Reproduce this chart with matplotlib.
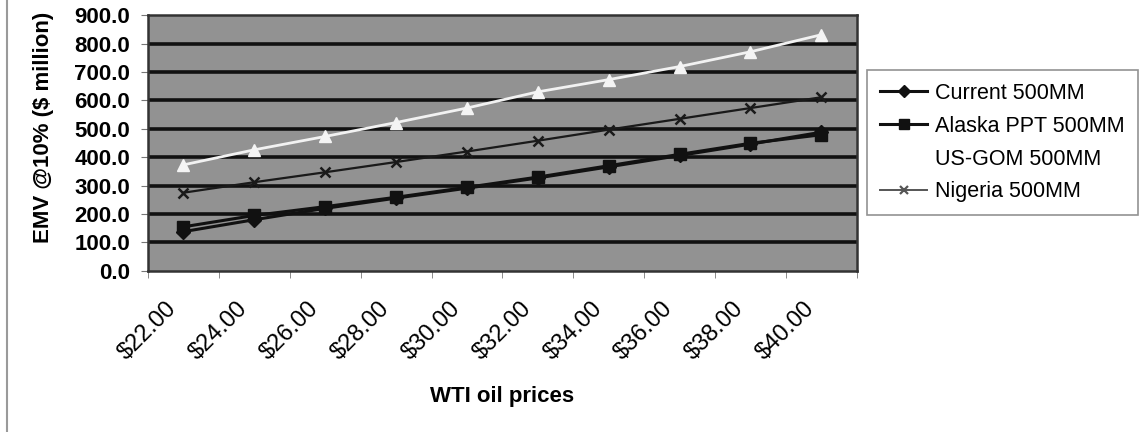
import matplotlib
matplotlib.use("Agg")
import matplotlib.pyplot as plt
from matplotlib.lines import Line2D
from matplotlib.transforms import ScaledTranslation

prices = ["$22.00", "$24.00", "$26.00", "$28.00", "$30.00",
          "$32.00", "$34.00", "$36.00", "$38.00", "$40.00"]
current = [138, 180, 220, 256, 291, 327, 366, 406, 446, 488]
alaska = [155, 195, 226, 259, 294, 330, 370, 410, 449, 479]
us_gom = [373, 426, 473, 522, 573, 630, 673, 719, 771, 831]
nigeria = [275, 312, 347, 383, 420, 458, 497, 535, 573, 611]
y_ticks = [0, 100, 200, 300, 400, 500, 600, 700, 800, 900]

plt.rcParams['font.family'] = ['Liberation Sans', 'DejaVu Sans']

fig = plt.figure(figsize=(11.47, 4.32), dpi=100)
ax = fig.add_axes([0.129, 0.373, 0.618, 0.592])
ax.set_facecolor('#929292')

x = list(range(len(prices)))
ax.set_xlim(-0.5, len(prices) - 0.5)
ax.set_ylim(0, 900)

for v in y_ticks[1:-1]:
    ax.axhline(v, color='#111111', lw=2.6, zorder=1)

ax.plot(x, current, color='#111111', lw=2.2, marker='D', ms=7, mfc='#111111', mec='#111111', zorder=4, label='Current 500MM')
ax.plot(x, alaska, color='#111111', lw=2.2, marker='s', ms=8, mfc='#111111', mec='#111111', zorder=4, label='Alaska PPT 500MM')
ax.plot(x, us_gom, color='#f2f2f2', lw=2.0, marker='^', ms=8, mfc='#f4f4f4', mec='#f4f4f4', zorder=3, label='US-GOM 500MM')
ax.plot(x, nigeria, color='#1a1a1a', lw=1.6, marker='x', ms=7, mew=1.8, zorder=4, label='Nigeria 500MM')

ax.set_yticks(y_ticks)
ax.set_yticklabels([f"{v:.1f}" for v in y_ticks], fontsize=16, fontweight='bold')
ax.set_xticks(x)
ax.set_xticklabels(prices, fontsize=17, rotation=45, ha='right', va='center', rotation_mode='anchor')
ax.tick_params(axis='x', which='major', length=0, pad=25)
shift = ScaledTranslation(-0.10, 0, fig.dpi_scale_trans)
for lbl in ax.get_xticklabels():
    lbl.set_transform(lbl.get_transform() + shift)
ax.set_xticks([i - 0.5 for i in range(len(prices) + 1)], minor=True)
ax.tick_params(axis='x', which='minor', length=5, color='#777777', direction='out')
ax.tick_params(axis='y', length=5, color='#777777', direction='out', pad=8)

for s in ax.spines.values():
    s.set_color('#333333')
    s.set_linewidth(1.8)

ax.set_ylabel("EMV @10% ($ million)", fontsize=16, fontweight='bold', va='center', ha='center')
ax.yaxis.set_label_coords(-0.147, 0.56)
ax.set_xlabel("WTI oil prices", fontsize=16, fontweight='bold', va='center')
ax.xaxis.set_label_coords(0.5, -0.49)

handles = [
    Line2D([], [], color='#111111', lw=2.2, marker='D', ms=6),
    Line2D([], [], color='#111111', lw=2.2, marker='s', ms=7),
    Line2D([], [], color='white', lw=2.0, marker='^', ms=7, mfc='white', mec='white'),
    Line2D([], [], color='#555555', lw=1.4, marker='x', ms=6, mew=1.6),
]
leg = fig.legend(handles, ['Current 500MM', 'Alaska PPT 500MM', 'US-GOM 500MM', 'Nigeria 500MM'],
                 loc='upper left', bbox_to_anchor=(0.756, 0.838), frameon=True, fancybox=False,
                 fontsize=15.5, handlelength=2.2, handletextpad=0.36, labelspacing=0.55,
                 borderpad=0.6, borderaxespad=0)
leg.get_frame().set_edgecolor('#777777')
leg.get_frame().set_linewidth(1.2)

fig.add_artist(Line2D([0.006, 0.006], [0.0, 1.0], transform=fig.transFigure, color='#9a9a9a', lw=1.5))

fig.savefig("out.png", dpi=100, facecolor='white')
